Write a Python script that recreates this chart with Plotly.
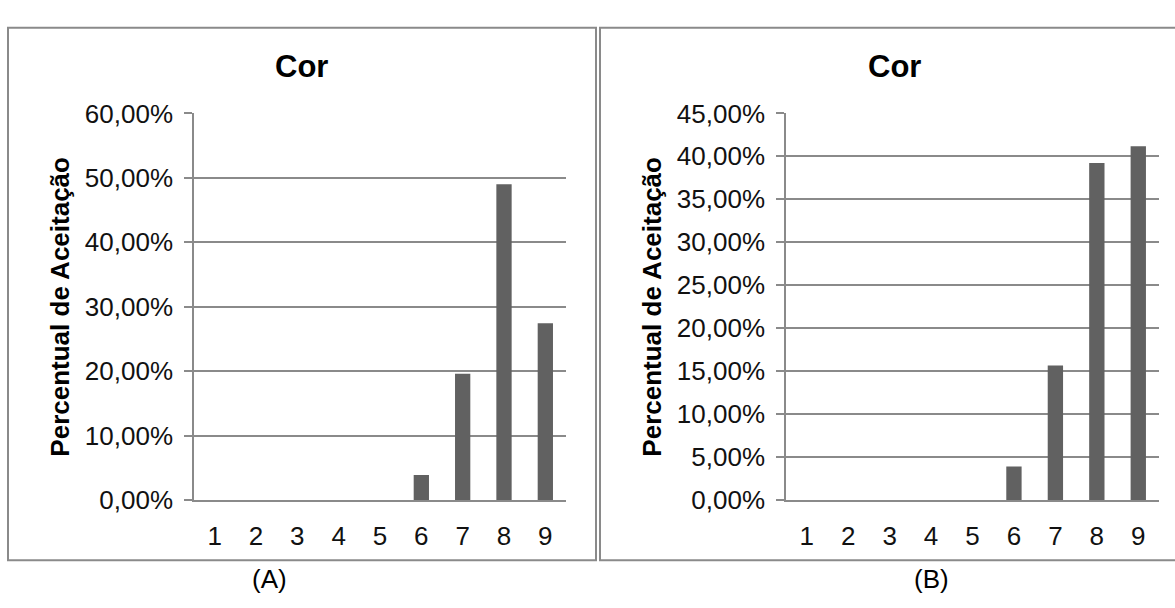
import plotly.graph_objects as go

categories = ["1", "2", "3", "4", "5", "6", "7", "8", "9"]
values_a = [0, 0, 0, 0, 0, 0.0392, 0.1961, 0.4902, 0.2745]
values_b = [0, 0, 0, 0, 0, 0.0392, 0.1569, 0.3922, 0.4118]
chart_title = "Cor"
y_title = "Percentual de Aceitação"
panel_labels = ["(A)", "(B)"]

W, H = 1175, 608
FONT = "Arial, 'Liberation Sans', sans-serif"
GRID = "#8a8a8a"
BAR = "#616161"

def px_x(x):
    return x / W

def px_y(y):
    return (H - y) / H

fig = go.Figure()
fig.add_trace(go.Bar(x=categories, y=values_a, marker=dict(color=BAR, line=dict(width=0)),
                     xaxis="x", yaxis="y", showlegend=False))
fig.add_trace(go.Bar(x=categories, y=values_b, marker=dict(color=BAR, line=dict(width=0)),
                     xaxis="x2", yaxis="y2", showlegend=False))

ydom = [px_y(510.5), px_y(103.5)]
common_x = dict(type="category", showline=True, linecolor=GRID, linewidth=1.5,
                showgrid=False, ticks="", zeroline=False,
                tickfont=dict(family=FONT, size=26, color="#111"),
                ticklabelstandoff=12, range=[-0.5, 8.5], fixedrange=True)
common_y = dict(showline=True, linecolor=GRID, linewidth=1.5,
                showgrid=True, gridcolor=GRID, gridwidth=1.5,
                ticks="outside", ticklen=8, tickcolor=GRID, tickwidth=1.5,
                tickformat=".2%", zeroline=False,
                tickfont=dict(family=FONT, size=26, color="#111"),
                ticklabelstandoff=6, fixedrange=True,
                title=dict(text=y_title, font=dict(family=FONT, size=26, color="#000",
                                                   weight="bold"), standoff=8))

fig.update_layout(
    width=W, height=H,
    margin=dict(l=0, r=0, t=0, b=0),
    paper_bgcolor="white", plot_bgcolor="white",
    separators=",.",
    bargap=0.63,
    xaxis=dict(domain=[px_x(194), px_x(566)], anchor="y", **common_x),
    yaxis=dict(domain=ydom, anchor="x", range=[0, 0.6], dtick=0.1, **common_y),
    xaxis2=dict(domain=[px_x(786), px_x(1159)], anchor="y2", **common_x),
    yaxis2=dict(domain=ydom, anchor="x2", range=[0, 0.45], dtick=0.05, **common_y),
)

# chart borders
fig.add_shape(type="rect", xref="paper", yref="paper",
              x0=px_x(8), x1=px_x(596), y0=px_y(573.5), y1=px_y(13.5),
              line=dict(color=GRID, width=2), layer="below")
fig.add_shape(type="rect", xref="paper", yref="paper",
              x0=px_x(600), x1=px_x(1180), y0=px_y(573.5), y1=px_y(13.5),
              line=dict(color=GRID, width=2), layer="below")

# titles
for cx in (301, 894):
    fig.add_annotation(text=f"<b>{chart_title}</b>", xref="paper", yref="paper",
                       x=px_x(cx), y=px_y(54), showarrow=False,
                       font=dict(family=FONT, size=31, color="#000"),
                       xanchor="center", yanchor="middle")

# panel labels
for cx, lab in zip((269, 931), panel_labels):
    fig.add_annotation(text=lab, xref="paper", yref="paper",
                       x=px_x(cx), y=px_y(593), showarrow=False,
                       font=dict(family=FONT, size=26, color="#000"),
                       xanchor="center", yanchor="middle")

fig.write_html("out.html", config={"displayModeBar": False},
               post_script="document.body.style.margin='0px';document.body.style.overflow='hidden';")
